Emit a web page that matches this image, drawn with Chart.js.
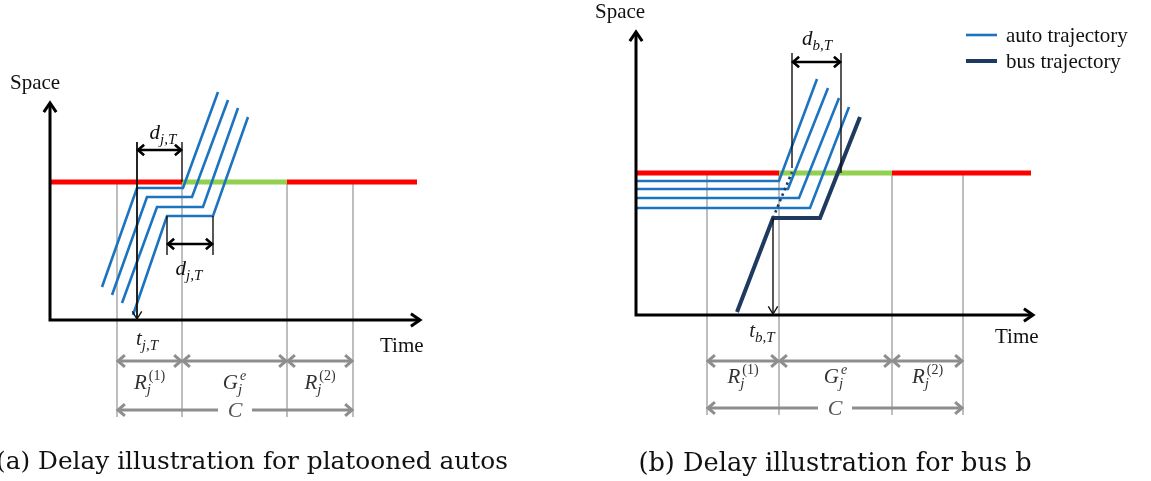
<!DOCTYPE html>
<html>
<head>
<meta charset="utf-8">
<script src="https://cdn.jsdelivr.net/npm/chart.js@4.4.1/dist/chart.umd.min.js"></script>
<style>
html, body { margin: 0; padding: 0; background: #fff; overflow: hidden; }
canvas { position: absolute; top: 0; }
#left { left: 0; }
#right { left: 575px; }
</style>
</head>
<body>
<canvas id="left" width="575" height="481"></canvas>
<canvas id="right" width="576" height="481"></canvas>
<script>
// values (time along x, space along y)

// (a) platooned autos
var aPhases = [67, 132, 237, 303];   // cycle start, end of red R1, end of green, end of cycle
var aStop = 138;                      // stop line
var aSignalEnd = 367;
var aAuto1T = [52, 87, 133, 168], aAuto1S = [33, 132, 132, 228];
var aAuto2T = [62, 97, 142, 178], aAuto2S = [25, 123, 123, 220];
var aAuto3T = [72, 107, 153, 188], aAuto3S = [17, 113, 113, 212];
var aAuto4T = [83, 117, 163, 198], aAuto4S = [5, 104, 104, 203];

// (b) bus behind a queue of autos
var bPhases = [71, 143, 256, 327];
var bStop = 142;
var bSignalEnd = 395;
var bAuto1T = [0, 143, 181], bAuto1S = [134, 134, 236];
var bAuto2T = [0, 152, 192], bAuto2S = [126, 126, 227];
var bAuto3T = [0, 163, 203], bAuto3S = [117, 117, 217];
var bAuto4T = [0, 174, 213], bAuto4S = [107, 107, 208];
var bBusT = [101, 137, 184, 224], bBusS = [3, 97, 97, 198];
var bBusFreeT = [137, 156], bBusFreeS = [97, 143];

var BLUE = '#1c74c0', NAVY = '#1f3a60', RED = '#ff0000', GREEN = '#92d050';
var GUIDE = '#a8a8a8', ARROW_GRAY = '#8e8e8e';
var SERIF = '"Liberation Serif", "Times New Roman", serif';

// layout (positions of annotations, in axis units)
var layoutA = {
  phases: aPhases, stop: aStop, axisT: 370, axisS: 217,
  guideBottom: -97, row: -41, rowText: -69, cRow: -90, cText: -97,
  tT: 87, tTop: 178, tText: [97, -25], tSub: 'j,T',
  dUp: { t1: 87, t2: 132, top: 178, b1: 0, b2: aStop, y: 170, lx: 113, ly: 181, sub: 'j,T' },
  dLow: { t1: 117, t2: 163, top: 104, bottom: 65, y: 76, lx: 139, ly: 45, sub: 'j,T' },
  time: [330, -32], space: [-40, 231],
  capHead: '(a) ', capBody: 'Delay illustration for platooned autos', capX: 38, capW: 470, capY: 469
};
var layoutB = {
  phases: bPhases, stop: bStop, axisT: 397, axisS: 283,
  guideBottom: -100, row: -46, rowText: -68, cRow: -93, cText: -100,
  tT: 137, tTop: 97, tText: [126, -22], tSub: 'b,T',
  dUp: { t1: 156, t2: 205, top: 262, b1: 147, b2: 142, y: 253, lx: 181, ly: 270, sub: 'b,T' },
  time: [359, -28], space: [-41, 297],
  legend: { t1: 330, t2: 361, s: [280, 254], tx: 370 },
  capHead: '(b) ', capBody: 'Delay illustration for bus b', capX: 108, capW: 349, capY: 471
};

function xy(T, S) {
  return T.map(function (t, i) { return { x: t, y: S[i] }; });
}

function signalSets(phases, stop, end) {
  return [
    { data: xy([0, phases[1]], [stop, stop]), borderColor: RED, borderWidth: 5, order: 9 },
    { data: xy([phases[1], phases[2]], [stop, stop]), borderColor: GREEN, borderWidth: 5, order: 9 },
    { data: xy([phases[2], end], [stop, stop]), borderColor: RED, borderWidth: 5, order: 9 }
  ];
}

function autoSet(T, S, label) {
  return { label: label, data: xy(T, S), borderColor: BLUE, borderWidth: 2.6, order: 5 };
}

function seg(ctx, x1, y1, x2, y2) {
  ctx.beginPath(); ctx.moveTo(x1, y1); ctx.lineTo(x2, y2); ctx.stroke();
}

function head(ctx, x, y, ang, len, spr) {
  ctx.beginPath();
  ctx.moveTo(x - len * Math.cos(ang - spr), y - len * Math.sin(ang - spr));
  ctx.lineTo(x, y);
  ctx.lineTo(x - len * Math.cos(ang + spr), y - len * Math.sin(ang + spr));
  ctx.stroke();
}

function dbl(ctx, x1, x2, y, len) {
  seg(ctx, x1 + 1, y, x2 - 1, y);
  head(ctx, x1 + 1, y, Math.PI, len, 0.7);
  head(ctx, x2 - 1, y, 0, len, 0.7);
}

// base letter with subscript / superscript, centred on cx
function rich(ctx, cx, y, base, sub, sup, supItalic, color) {
  ctx.fillStyle = color;
  ctx.textBaseline = 'alphabetic';
  ctx.textAlign = 'left';
  var fb = 'italic 21px ' + SERIF, fs = 'italic 15px ' + SERIF, fu = (supItalic ? 'italic ' : '') + '14px ' + SERIF;
  ctx.font = fb; var wb = ctx.measureText(base).width;
  ctx.font = fs; var ws = sub ? ctx.measureText(sub).width : 0;
  ctx.font = fu; var wu = sup ? ctx.measureText(sup).width : 0;
  var x = cx - (wb + Math.max(ws, wu + 2)) / 2;
  ctx.font = fb; ctx.fillText(base, x, y);
  if (sub) { ctx.font = fs; ctx.fillText(sub, x + wb, y + 5); }
  if (sup) { ctx.font = fu; ctx.fillText(sup, x + wb + 2, y - 9); }
}

function decoPlugin(L) {
  return {
    id: 'deco',
    beforeDatasetsDraw: function (chart) {
      var ctx = chart.ctx, X = chart.scales.x, Y = chart.scales.y;
      var px = function (v) { return X.getPixelForValue(v); };
      var py = function (v) { return Y.getPixelForValue(v); };
      ctx.save();
      ctx.strokeStyle = GUIDE; ctx.lineWidth = 1.5;
      L.phases.forEach(function (t) { seg(ctx, px(t), py(L.stop), px(t), py(L.guideBottom)); });
      ctx.restore();
    },
    afterDatasetsDraw: function (chart) {
      var ctx = chart.ctx, X = chart.scales.x, Y = chart.scales.y;
      var px = function (v) { return X.getPixelForValue(v); };
      var py = function (v) { return Y.getPixelForValue(v); };
      var ph = L.phases;
      ctx.save();
      ctx.lineCap = 'butt'; ctx.lineJoin = 'miter';

      // axes
      ctx.strokeStyle = '#000'; ctx.lineWidth = 3;
      ctx.beginPath();
      ctx.moveTo(px(0), py(L.axisS)); ctx.lineTo(px(0), py(0)); ctx.lineTo(px(L.axisT), py(0));
      ctx.stroke();
      head(ctx, px(0), py(L.axisS), -Math.PI / 2, 11, 0.6);
      head(ctx, px(L.axisT), py(0), 0, 11, 0.6);

      // cycle arrows under the axis
      ctx.strokeStyle = ARROW_GRAY; ctx.lineWidth = 3;
      for (var i = 0; i < 3; i++) dbl(ctx, px(ph[i]), px(ph[i + 1]), py(L.row), 9);
      var cMid = (px(ph[0]) + px(ph[3])) / 2;
      seg(ctx, px(ph[0]) + 1, py(L.cRow), cMid - 17, py(L.cRow));
      seg(ctx, cMid + 17, py(L.cRow), px(ph[3]) - 1, py(L.cRow));
      head(ctx, px(ph[0]) + 1, py(L.cRow), Math.PI, 9, 0.7);
      head(ctx, px(ph[3]) - 1, py(L.cRow), 0, 9, 0.7);

      // arrival time arrow
      ctx.strokeStyle = '#111'; ctx.lineWidth = 1.4;
      seg(ctx, px(L.tT), py(L.tTop), px(L.tT), py(0) - 1);
      head(ctx, px(L.tT), py(0) - 1, Math.PI / 2, 9, 0.55);

      // delay markers
      var d = L.dUp;
      ctx.lineWidth = 1.4;
      seg(ctx, px(d.t1), py(d.top), px(d.t1), py(d.b1));
      seg(ctx, px(d.t2), py(d.top), px(d.t2), py(d.b2));
      ctx.lineWidth = 2.6; ctx.strokeStyle = '#000';
      dbl(ctx, px(d.t1), px(d.t2), py(d.y), 8);
      rich(ctx, px(d.lx), py(d.ly), 'd', d.sub, null, false, '#111');
      if (L.dLow) {
        d = L.dLow;
        ctx.lineWidth = 1.4; ctx.strokeStyle = '#111';
        seg(ctx, px(d.t1), py(d.top), px(d.t1), py(d.bottom));
        seg(ctx, px(d.t2), py(d.top), px(d.t2), py(d.bottom));
        ctx.lineWidth = 2.6; ctx.strokeStyle = '#000';
        dbl(ctx, px(d.t1), px(d.t2), py(d.y), 8);
        rich(ctx, px(d.lx), py(d.ly), 'd', d.sub, null, false, '#111');
      }

      // labels
      rich(ctx, px(L.tText[0]), py(L.tText[1]), 't', L.tSub, null, false, '#222');
      rich(ctx, px((ph[0] + ph[1]) / 2), py(L.rowText), 'R', 'j', '(1)', false, '#333');
      rich(ctx, px((ph[1] + ph[2]) / 2), py(L.rowText), 'G', 'j', 'e', true, '#333');
      rich(ctx, px((ph[2] + ph[3]) / 2), py(L.rowText), 'R', 'j', '(2)', false, '#333');
      ctx.font = 'italic 22px ' + SERIF; ctx.fillStyle = '#555'; ctx.textAlign = 'center';
      ctx.fillText('C', cMid, py(L.cText));

      ctx.font = '21px ' + SERIF; ctx.fillStyle = '#111'; ctx.textAlign = 'left';
      ctx.fillText('Time', px(L.time[0]), py(L.time[1]));
      ctx.fillText('Space', px(L.space[0]), py(L.space[1]));

      if (L.legend) {
        var g = L.legend;
        var ds = chart.data.datasets.filter(function (s) { return s.label; });
        var items = [ds[0], ds[ds.length - 1]];
        items.forEach(function (s, k) {
          ctx.strokeStyle = s.borderColor; ctx.lineWidth = k ? 4 : 2.6;
          seg(ctx, px(g.t1), py(g.s[k]), px(g.t2), py(g.s[k]));
          ctx.fillStyle = '#111'; ctx.font = '21px ' + SERIF; ctx.textBaseline = 'middle';
          ctx.fillText(s.label, px(g.tx), py(g.s[k]) + 1);
        });
        ctx.textBaseline = 'alphabetic';
      }

      // caption: body text starts at capX (canvas px) and spans capW
      ctx.fillStyle = '#111'; ctx.textAlign = 'left';
      ctx.font = '100px "DejaVu Serif", serif';
      var size = 100 * L.capW / ctx.measureText(L.capBody).width;
      ctx.font = size.toFixed(2) + 'px "DejaVu Serif", serif';
      ctx.fillText(L.capHead + L.capBody, L.capX - ctx.measureText(L.capHead).width, L.capY);
      ctx.restore();
    }
  };
}

function panel(id, xr, yr, datasets, L) {
  return new Chart(document.getElementById(id), {
    type: 'line',
    data: { datasets: datasets },
    options: {
      responsive: false,
      animation: false,
      devicePixelRatio: 1,
      events: [],
      layout: { padding: 0 },
      elements: { point: { radius: 0, hoverRadius: 0 }, line: { tension: 0, borderJoinStyle: 'miter' } },
      plugins: { legend: { display: false }, tooltip: { enabled: false } },
      scales: {
        x: { type: 'linear', display: false, min: xr[0], max: xr[1] },
        y: { type: 'linear', display: false, min: yr[0], max: yr[1] }
      }
    },
    plugins: [decoPlugin(L)]
  });
}

panel('left', [-50, 525], [-161, 320],
  signalSets(aPhases, aStop, aSignalEnd).concat([
    autoSet(aAuto1T, aAuto1S, 'auto trajectory'),
    autoSet(aAuto2T, aAuto2S),
    autoSet(aAuto3T, aAuto3S),
    autoSet(aAuto4T, aAuto4S)
  ]), layoutA);

panel('right', [-61, 515], [-166, 315],
  signalSets(bPhases, bStop, bSignalEnd).concat([
    autoSet(bAuto1T, bAuto1S, 'auto trajectory'),
    autoSet(bAuto2T, bAuto2S),
    autoSet(bAuto3T, bAuto3S),
    autoSet(bAuto4T, bAuto4S),
    { data: xy(bBusFreeT, bBusFreeS), borderColor: NAVY, borderWidth: 2.6, borderDash: [2.5, 3.5], order: 4 },
    { label: 'bus trajectory', data: xy(bBusT, bBusS), borderColor: NAVY, borderWidth: 4, order: 3 }
  ]), layoutB);
</script>
</body>
</html>
